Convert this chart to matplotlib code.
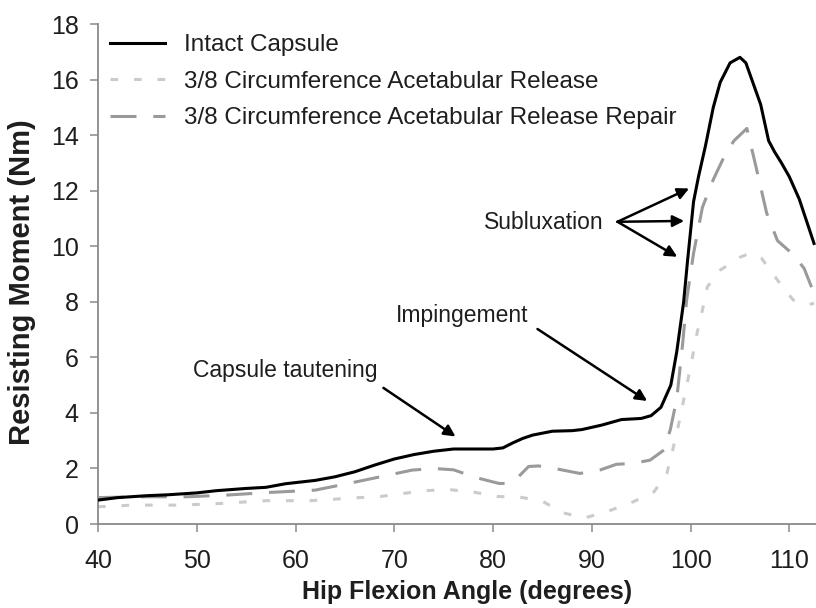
import matplotlib
matplotlib.use("Agg")
import matplotlib.pyplot as plt

plt.rcParams['font.family'] = ['Liberation Sans', 'DejaVu Sans']

# ---- data ----
intact_x = [40, 42, 45, 47, 50, 52, 55, 57, 59, 62, 64, 66, 68, 70, 72, 74, 76, 78, 80,
            81, 82, 83, 84, 86, 88, 89, 91, 93, 95, 96, 97, 98, 98.6, 99.3, 99.7,
            100.3, 100.8, 101.5, 102.3, 103, 104, 105, 105.6, 106.1, 107.1, 107.9,
            108.5, 109.2, 110, 111, 112.5]
intact_y = [0.86, 0.95, 1.02, 1.05, 1.12, 1.2, 1.28, 1.32, 1.45, 1.57, 1.7, 1.88, 2.12,
            2.34, 2.5, 2.62, 2.7, 2.7, 2.7, 2.74, 2.92, 3.08, 3.2, 3.34, 3.36, 3.4,
            3.56, 3.76, 3.8, 3.9, 4.2, 5.0, 6.2, 8.0, 9.5, 11.6, 12.5, 13.6, 15.0,
            15.9, 16.6, 16.8, 16.6, 16.1, 15.1, 13.8, 13.4, 13.0, 12.5, 11.7, 10.1]

release_x = [40, 43.6, 48.6, 52.4, 57.1, 61.5, 63.8, 65.9, 68.6, 70.9, 73.1, 75.5, 78,
             80.4, 82.7, 85, 87.1, 89.3, 91.5, 94.2, 96.3, 97.6, 98.6, 99.3, 100.0,
             100.65, 101.2, 101.7, 103, 105, 106, 107.2, 108.8, 110.4, 111.8, 112.5]
release_y = [0.62, 0.68, 0.68, 0.74, 0.84, 0.84, 0.89, 0.94, 0.99, 1.1, 1.2, 1.24, 1.15,
             0.99, 0.97, 0.82, 0.4, 0.22, 0.44, 0.8, 1.16, 1.82, 3.26, 4.46, 5.66,
             6.86, 7.7, 8.54, 9.14, 9.6, 9.75, 9.56, 8.78, 8.06, 7.88, 7.95]

repair_x = [40, 44, 49, 53, 57, 62, 65.5, 69.4, 71.8, 74, 76, 78.4, 80.6, 81.5, 82.4,
            83.6, 84.6, 86.5, 88.8, 90.8, 92.5, 94.2, 95.9, 97.3, 97.95, 98.6, 99.2,
            99.6, 100.3, 101.2, 102.3, 103.5, 104.4, 105.7, 106.4, 107.7, 108.8,
            110.4, 111.5, 112.5]
repair_y = [0.95, 0.98, 0.98, 1.04, 1.13, 1.22, 1.47, 1.76, 1.94, 2.0, 1.95, 1.66, 1.46,
            1.46, 1.64, 2.07, 2.09, 1.98, 1.82, 1.94, 2.15, 2.18, 2.3, 2.66, 3.4, 4.5,
            6.5, 8.06, 9.74, 11.4, 12.4, 13.3, 13.8, 14.24, 13.2, 11.2, 10.2, 9.7,
            9.2, 8.3]

series_labels = ["Intact Capsule",
                 "3/8 Circumference Acetabular Release",
                 "3/8 Circumference Acetabular Release Repair"]

x_ticks = [40, 50, 60, 70, 80, 90, 100, 110]
y_ticks = [0, 2, 4, 6, 8, 10, 12, 14, 16, 18]

# annotations: (text, text position, [arrow tail, arrow head(s)])
ann_texts = ["Capsule tautening", "Impingement", "Subluxation"]
ann_text_pos = [(58.95, 5.54), (76.9, 7.49), (85.1, 10.87)]
ann_tails = [(68.9, 4.90), (84.5, 7.02), (92.6, 10.88)]
ann_heads = [[(76.2, 3.15)], [(95.6, 4.43)],
             [(99.85, 12.08), (99.35, 10.91), (98.65, 9.62)]]

# ---- figure ----
fig = plt.figure(figsize=(8.16, 6.08), dpi=100)
ax = fig.add_axes([98 / 816, 84 / 608, 718 / 816, 500 / 608])

txt_color = '#1e1e1e'
spine_color = '#8a8a8a'

ax.plot(intact_x, intact_y, color='black', lw=2.2, solid_joinstyle='round',
        label=series_labels[0], zorder=4)
ax.plot(release_x, release_y, color='#cbcbcb', lw=2.2, dashes=(2.5, 5.2),
        label=series_labels[1], zorder=2)
ax.plot(repair_x, repair_y, color='#9a9a9a', lw=2.2, dashes=(8.5, 5.5),
        label=series_labels[2], zorder=3)

ax.set_xlim(40, 112.7)
ax.set_ylim(0, 18)
ax.set_xticks(x_ticks)
ax.set_yticks(y_ticks)

for s in ['top', 'right']:
    ax.spines[s].set_visible(False)
for s in ['left', 'bottom']:
    ax.spines[s].set_color(spine_color)
    ax.spines[s].set_linewidth(1.3)
ax.tick_params(axis='both', direction='out', length=6, width=1.1, color=spine_color,
               labelsize=18, labelcolor=txt_color)
ax.tick_params(axis='x', pad=12)
ax.tick_params(axis='y', pad=8)

ax.set_xlabel("Hip Flexion Angle (degrees)", fontsize=18, fontweight='bold', color=txt_color)
ax.set_ylabel("Resisting Moment (Nm)", fontsize=21, fontweight='bold', color=txt_color)
ax.xaxis.set_label_coords((467 - 98) / 718, -(580 - 524) / 500)
ax.yaxis.set_label_coords(-(98 - 36) / 718, (524 - 282) / 500)

leg = ax.legend(loc='upper left', bbox_to_anchor=(12 / 718, 1 - 10 / 500), frameon=False,
                fontsize=17.5, handlelength=2.26, handletextpad=0.78, labelspacing=0.6,
                borderpad=0, borderaxespad=0)
for t in leg.get_texts():
    t.set_color(txt_color)

for text, pos, tail, heads in zip(ann_texts, ann_text_pos, ann_tails, ann_heads):
    ax.text(pos[0], pos[1], text, ha='center', va='center', fontsize=16.5, color=txt_color)
    for h in heads:
        ax.annotate("", xy=h, xytext=tail,
                    arrowprops=dict(arrowstyle='-|>', color='black', lw=1.8,
                                    mutation_scale=17, shrinkA=0, shrinkB=0))

fig.savefig("out.png", dpi=100)
